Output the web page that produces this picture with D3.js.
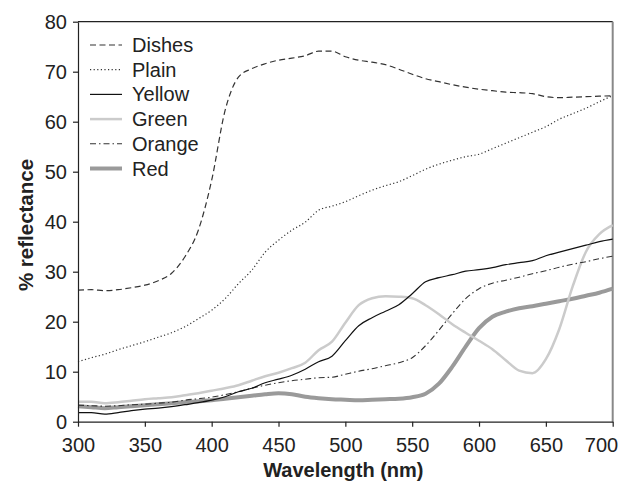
<!DOCTYPE html>
<html>
<head>
<meta charset="utf-8">
<script src="https://cdn.jsdelivr.net/npm/d3@7"></script>
<style>
  body { margin: 0; background: #fff; }
  svg { font-family: Arial, "Liberation Sans", sans-serif; }
</style>
</head>
<body>
<div id="chart"></div>
<script>
// Data (% reflectance per wavelength)
var wavelengths = [300,310,320,330,340,350,360,370,380,390,400,410,420,430,440,450,460,470,480,490,500,
                   510,520,530,540,550,560,570,580,590,600,610,620,630,640,650,660,670,680,690,700];
var dishes = [26.3,26.4,26.2,26.4,26.8,27.3,28.2,29.7,33.0,38.3,48.3,62.2,68.9,70.6,71.6,72.3,72.7,73.2,74.1,74.1,73.0,
              72.3,71.9,71.4,70.5,69.5,68.6,68.0,67.4,66.9,66.5,66.2,65.9,65.8,65.6,65.0,64.8,64.9,65.0,65.1,65.2];
var plain = [12.0,12.8,13.5,14.4,15.2,16.0,16.9,17.8,19.0,20.6,22.3,24.6,27.6,30.3,33.9,36.3,38.3,39.9,42.3,43.1,44.0,
             45.2,46.3,47.2,48.0,49.2,50.5,51.5,52.3,53.0,53.5,54.6,55.7,56.8,57.9,59.0,60.5,61.6,62.7,64.0,65.2];
var yellow = [1.8,1.8,1.5,1.8,2.2,2.5,2.7,3.0,3.4,3.8,4.3,5.0,6.0,6.7,7.8,8.5,9.3,10.5,12.0,13.1,16.2,
              19.2,20.8,22.1,23.4,25.6,28.0,28.8,29.4,30.1,30.4,30.8,31.4,31.8,32.2,33.2,33.9,34.6,35.3,36.0,36.5];
var green = [4.0,4.0,3.7,3.9,4.2,4.5,4.7,4.9,5.3,5.7,6.2,6.7,7.3,8.2,9.1,9.8,10.7,11.8,14.3,16.0,19.8,
             23.3,24.7,25.1,25.0,24.7,23.3,21.5,19.5,17.8,16.2,14.5,12.3,10.2,9.7,12.5,18.5,27.0,34.0,37.5,39.3];
var orange = [3.3,3.2,3.1,3.2,3.4,3.5,3.7,3.9,4.3,4.6,4.9,5.4,6.0,6.7,7.3,7.8,8.2,8.5,8.8,8.9,9.5,
              10.1,10.6,11.2,11.8,12.8,15.2,18.3,21.6,24.6,26.6,27.7,28.3,28.9,29.6,30.2,30.9,31.5,32.0,32.6,33.1];
var red = [3.1,2.9,2.7,2.9,3.1,3.3,3.5,3.7,3.9,4.1,4.3,4.6,4.9,5.2,5.5,5.7,5.5,5.0,4.7,4.5,4.4,
           4.3,4.4,4.5,4.6,4.9,5.6,7.6,11.0,15.0,18.7,21.0,22.0,22.7,23.1,23.6,24.1,24.6,25.2,25.8,26.6];

var seriesNames = ["Dishes", "Plain", "Yellow", "Green", "Orange", "Red"];
var seriesValues = [dishes, plain, yellow, green, orange, red];
var xTicks = [300,350,400,450,500,550,600,650,700];
var yTicks = [0,10,20,30,40,50,60,70,80];

// line styles per series
var styles = {
  Dishes: {color: "#333", width: 1.2, dash: "6,3.5"},
  Plain:  {color: "#333", width: 1.2, dash: "1.2,2.4"},
  Yellow: {color: "#111", width: 1.2, dash: null},
  Green:  {color: "#cbcbcb", width: 2.5, dash: null},
  Orange: {color: "#333", width: 1.1, dash: "6,3,1.5,3"},
  Red:    {color: "#9a9a9a", width: 4, dash: null}
};

var w = 630, h = 481;
var margin = {top: 21.7, right: 17.3, bottom: 59.3, left: 78};
var width = w - margin.left - margin.right;
var height = h - margin.top - margin.bottom;

var svg = d3.select("#chart").append("svg")
    .attr("width", w)
    .attr("height", h);
var g = svg.append("g")
    .attr("transform", "translate(" + margin.left + "," + margin.top + ")");

var xScale = d3.scaleLinear().domain([300, 700]).range([0, width]);
var yScale = d3.scaleLinear().domain([0, 80]).range([height, 0]);

// frame: top dark, right grey
g.append("line").attr("x1", 0).attr("x2", width).attr("y1", 0).attr("y2", 0)
  .attr("stroke", "#222").attr("stroke-width", 1.2);
g.append("line").attr("x1", width).attr("x2", width).attr("y1", 0).attr("y2", height)
  .attr("stroke", "#888").attr("stroke-width", 2);

// lines
var line = d3.line()
  .x(function(d, i) { return xScale(wavelengths[i]); })
  .y(function(d) { return yScale(d); })
  .curve(d3.curveMonotoneX);

var drawOrder = ["Red", "Green", "Orange", "Plain", "Dishes", "Yellow"];
drawOrder.forEach(function(name) {
  var s = styles[name];
  g.append("path")
    .datum(seriesValues[seriesNames.indexOf(name)])
    .attr("fill", "none")
    .attr("stroke", s.color)
    .attr("stroke-width", s.width)
    .attr("stroke-dasharray", s.dash)
    .attr("d", line);
});

// axes
var xAxis = d3.axisBottom(xScale).tickValues(xTicks).tickSize(5).tickSizeOuter(0);
var yAxis = d3.axisLeft(yScale).tickValues(yTicks).tickSize(5).tickSizeOuter(0);

var gx = g.append("g").attr("transform", "translate(0," + height + ")").call(xAxis);
gx.selectAll("text").attr("font-size", "20px").attr("fill", "#222").attr("y", 30).attr("dy", 0);
gx.selectAll("text").filter(function(d) { return d === 700; })
  .attr("text-anchor", "end").attr("x", 5);
gx.selectAll("path, line").attr("stroke", "#222").attr("stroke-width", 1.2);

var gy = g.append("g").call(yAxis);
gy.selectAll("text").attr("font-size", "20px").attr("fill", "#222").attr("x", -11);
gy.selectAll("path, line").attr("stroke", "#222").attr("stroke-width", 1.2);

// axis titles
svg.append("text")
  .attr("text-anchor", "middle")
  .attr("x", margin.left + width / 2 - 2)
  .attr("y", 477)
  .attr("font-size", "20px")
  .attr("font-weight", 700)
  .attr("fill", "#222")
  .text("Wavelength (nm)");

svg.append("text")
  .attr("text-anchor", "middle")
  .attr("transform", "translate(33,225)rotate(-90)")
  .attr("font-size", "20.5px")
  .attr("font-weight", 700)
  .attr("fill", "#222")
  .text("% reflectance");

// legend
var legend = svg.append("g").attr("transform", "translate(90,45)");
seriesNames.forEach(function(name, i) {
  var s = styles[name];
  var row = legend.append("g").attr("transform", "translate(0," + (i * 24.7) + ")");
  row.append("line")
    .attr("x1", 0).attr("x2", 32).attr("y1", 0).attr("y2", 0)
    .attr("stroke", s.color)
    .attr("stroke-width", s.width)
    .attr("stroke-dasharray", s.dash);
  row.append("text")
    .attr("x", 42).attr("y", 0).attr("dy", "0.35em")
    .attr("font-size", "20px")
    .attr("fill", "#222")
    .text(name);
});
</script>
</body>
</html>
